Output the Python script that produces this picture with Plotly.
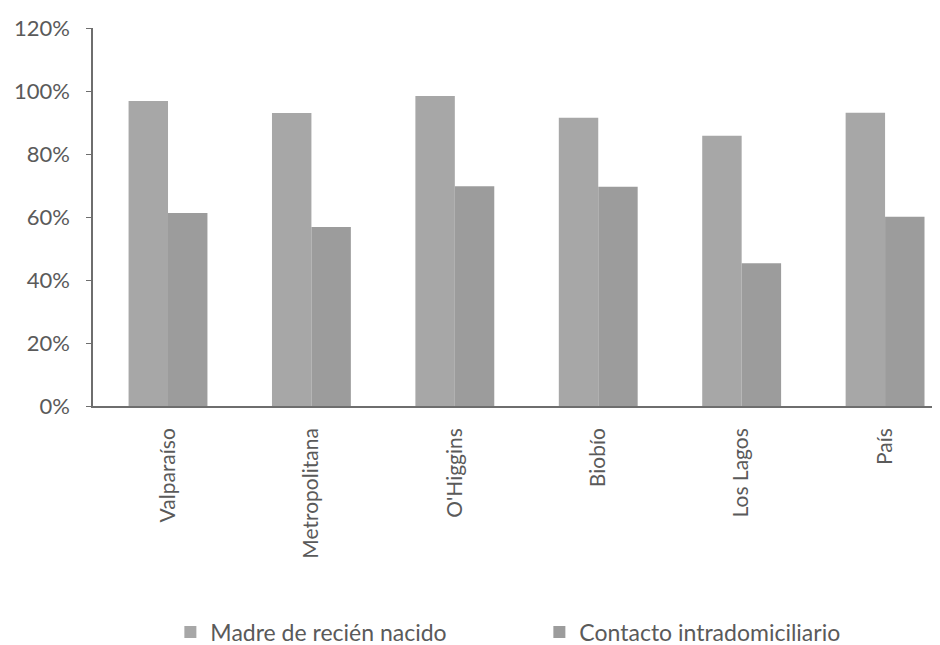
import plotly.graph_objects as go

categories = ["Valparaíso", "Metropolitana", "O'Higgins", "Biobío", "Los Lagos", "País"]
madre = [96.8, 93.0, 98.4, 91.5, 85.8, 93.1]
contacto = [61.3, 56.8, 69.8, 69.6, 45.3, 60.1]
series_names = ["Madre de recién nacido", "Contacto intradomiciliario"]

FONT = "Lato"
TXT = "#5a5a5a"

fig = go.Figure()
fig.add_trace(go.Bar(x=categories, y=madre, name=series_names[0],
                     marker=dict(color="#a7a7a7", line=dict(width=0))))
fig.add_trace(go.Bar(x=categories, y=contacto, name=series_names[1],
                     marker=dict(color="#9c9c9c", line=dict(width=0))))

# page body has an 8px margin, so the figure is 932x637 and offsets are shifted by 8px
fig.update_layout(
    width=932, height=637,
    margin=dict(l=85, r=0, t=20, b=239, autoexpand=False),
    paper_bgcolor="white", plot_bgcolor="white",
    barmode="group", bargap=0.45, bargroupgap=0,
    font=dict(family=FONT, color=TXT),
    showlegend=True,
    legend=dict(orientation="h", x=0.527, xanchor="center", y=-0.598, yanchor="middle",
                font=dict(size=23, color=TXT, family=FONT),
                entrywidth=324, itemwidth=30, traceorder="normal"),
)
fig.update_xaxes(
    type="category", range=[-0.523, 5.383],
    showline=True, linecolor="#6e6e6e", linewidth=1.5,
    tickangle=-90, tickfont=dict(size=21, color=TXT, family=FONT),
    ticks="", showgrid=False, zeroline=False, ticklabelstandoff=12,
    automargin=False,
)
fig.update_yaxes(
    range=[0, 120], dtick=20, ticksuffix="%",
    showline=True, linecolor="#6e6e6e", linewidth=1.5,
    ticks="outside", ticklen=5, tickcolor="#6e6e6e",
    tickfont=dict(size=22, color=TXT, family=FONT),
    ticklabelstandoff=12, automargin=False,
    showgrid=False, zeroline=False,
)

fig.write_html("out.html")
